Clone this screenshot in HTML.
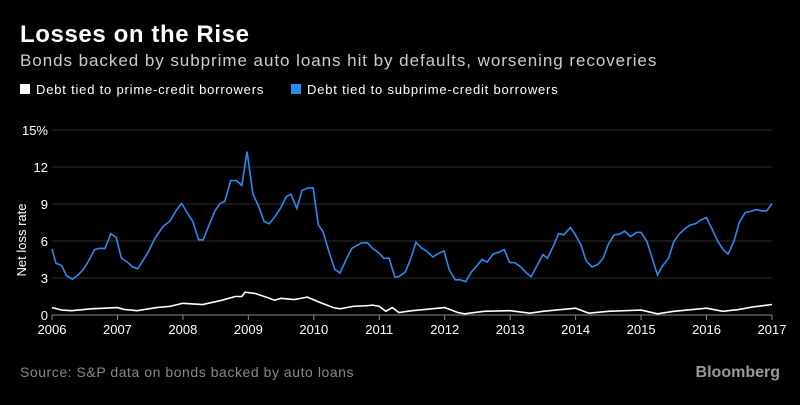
<!DOCTYPE html>
<html><head><meta charset="utf-8"><style>
body{margin:0;background:#000;width:800px;height:400px;overflow:hidden;font-family:"Liberation Sans",sans-serif;color:#fff}
</style></head><body>
<svg width="800" height="400" xmlns="http://www.w3.org/2000/svg">
<text x="20" y="42" fill="#fff" font-size="24" font-weight="bold" letter-spacing="0.6">Losses on the Rise</text>
<text x="20" y="66" fill="#ccc" font-size="17" letter-spacing="0.95">Bonds backed by subprime auto loans hit by defaults, worsening recoveries</text>
<g>
<rect x="20" y="84" width="10" height="10" fill="#fff"/>
<text x="36" y="94" fill="#fff" font-size="13" letter-spacing="0.8">Debt tied to prime-credit borrowers</text>
<rect x="291" y="84" width="10" height="10" fill="#2a8af0"/>
<text x="307" y="94" fill="#fff" font-size="13" letter-spacing="0.8">Debt tied to subprime-credit borrowers</text>
</g>
<g id="grid"></g><g id="axes"></g><g id="series"></g>
<text transform="translate(26,240) rotate(-90)" fill="#fff" font-size="13" text-anchor="middle">Net loss rate</text>
<text x="20" y="377" fill="#888" font-size="14" letter-spacing="0.55">Source: S&amp;P data on bonds backed by auto loans</text>
<text x="780" y="377" fill="#999" font-size="16" font-weight="bold" text-anchor="end">Bloomberg</text>
</svg>
<script>
const yTicks=[0,3,6,9,12,15];
const yTickLabels=["0","3","6","9","12","15%"];
const xTicks=[2006,2007,2008,2009,2010,2011,2012,2013,2014,2015,2016,2017];
const subT=[2006,2006.06,2006.15,2006.22,2006.31,2006.39,2006.48,2006.55,2006.65,2006.72,2006.81,2006.9,2006.98,2007.06,2007.15,2007.23,2007.31,2007.47,2007.57,2007.7,2007.8,2007.9,2007.98,2008.07,2008.15,2008.24,2008.31,2008.4,2008.49,2008.57,2008.64,2008.73,2008.82,2008.9,2008.98,2009.07,2009.15,2009.24,2009.32,2009.41,2009.49,2009.58,2009.65,2009.74,2009.82,2009.91,2009.99,2010.07,2010.14,2010.24,2010.32,2010.4,2010.49,2010.58,2010.65,2010.73,2010.82,2010.9,2010.99,2011.07,2011.15,2011.24,2011.31,2011.4,2011.49,2011.56,2011.65,2011.72,2011.82,2011.89,2011.99,2012.07,2012.16,2012.24,2012.32,2012.41,2012.5,2012.57,2012.65,2012.74,2012.83,2012.91,2012.99,2013.07,2013.16,2013.24,2013.32,2013.41,2013.5,2013.57,2013.66,2013.74,2013.82,2013.92,2013.99,2014.08,2014.16,2014.25,2014.34,2014.42,2014.5,2014.59,2014.67,2014.75,2014.84,2014.93,2015,2015.09,2015.17,2015.25,2015.33,2015.42,2015.5,2015.58,2015.67,2015.75,2015.83,2015.91,2016,2016.09,2016.17,2016.26,2016.33,2016.42,2016.5,2016.59,2016.67,2016.76,2016.84,2016.92,2017];
const subV=[5.35,4.2,4.0,3.2,2.9,3.2,3.7,4.3,5.3,5.4,5.4,6.6,6.3,4.6,4.3,3.9,3.75,5.1,6.2,7.2,7.6,8.5,9.06,8.25,7.6,6.1,6.1,7.3,8.45,9.05,9.2,10.9,10.9,10.5,13.25,9.8,8.9,7.6,7.4,8.0,8.65,9.6,9.8,8.65,10.1,10.3,10.3,7.3,6.75,5.0,3.7,3.4,4.45,5.4,5.6,5.85,5.85,5.4,5.05,4.6,4.6,3.05,3.15,3.5,4.7,5.9,5.4,5.2,4.7,4.95,5.2,3.65,2.85,2.85,2.7,3.5,4.05,4.5,4.3,4.95,5.1,5.3,4.25,4.25,3.9,3.45,3.1,4.0,4.9,4.6,5.6,6.6,6.5,7.1,6.55,5.7,4.4,3.9,4.1,4.6,5.75,6.5,6.55,6.8,6.35,6.7,6.7,5.95,4.6,3.25,4.0,4.6,5.95,6.55,7.0,7.3,7.4,7.7,7.9,6.9,6.0,5.25,4.95,6.0,7.5,8.3,8.4,8.55,8.45,8.45,9.05];
const primeT=[2006,2006.15,2006.3,2006.6,2007,2007.1,2007.3,2007.6,2007.8,2008,2008.3,2008.6,2008.8,2008.9,2008.95,2009.1,2009.3,2009.4,2009.5,2009.7,2009.8,2009.9,2010.1,2010.3,2010.4,2010.6,2010.8,2010.9,2011,2011.1,2011.2,2011.3,2011.5,2012,2012.2,2012.3,2012.6,2013,2013.3,2013.5,2014,2014.2,2014.5,2015,2015.25,2015.5,2016,2016.25,2016.5,2016.7,2017];
const primeV=[0.6,0.4,0.35,0.5,0.6,0.45,0.35,0.6,0.7,0.95,0.85,1.2,1.5,1.5,1.85,1.75,1.4,1.2,1.35,1.25,1.35,1.45,1.0,0.6,0.5,0.7,0.75,0.8,0.7,0.3,0.6,0.2,0.35,0.6,0.2,0.1,0.3,0.35,0.15,0.3,0.55,0.15,0.3,0.4,0.1,0.3,0.55,0.3,0.45,0.65,0.85];
const NS="http://www.w3.org/2000/svg";
const x=t=>52+(t-2006)*(720/11);
const y=v=>315-v*(185/15);
function mk(tag,attrs,parent){const e=document.createElementNS(NS,tag);for(const k in attrs)e.setAttribute(k,attrs[k]);parent.appendChild(e);return e;}
const grid=document.getElementById('grid'),axes=document.getElementById('axes'),ser=document.getElementById('series');
yTicks.forEach((v,i)=>{
 if(v>0){const l=mk('line',{x1:52,x2:772,y1:y(v),y2:y(v),stroke:'#2e2e2e','stroke-width':1},grid);
 
 }
 const t=mk('text',{x:48,y:y(v)+5,fill:'#fff','font-size':13,'text-anchor':'end'},axes);t.textContent=yTickLabels[i];
 
 
});
const base=mk('line',{x1:52,x2:772,y1:315,y2:315,stroke:'#888','stroke-width':1},axes);


xTicks.forEach(v=>{
 const tk=mk('line',{x1:x(v),x2:x(v),y1:315,y2:320,stroke:'#888'},axes);
 
 
 const t=mk('text',{x:x(v),y:334,fill:'#fff','font-size':13,'text-anchor':'middle'},axes);t.textContent=v;
 
 
});
const pr=mk('polyline',{points:primeT.map((t,i)=>x(t)+','+y(primeV[i])).join(' '),fill:'none',stroke:'#fff','stroke-width':1.6},ser);


const sb=mk('polyline',{points:subT.map((t,i)=>x(t)+','+y(subV[i])).join(' '),fill:'none',stroke:'#2a8af0','stroke-width':1.6},ser);


</script>
</body></html>
